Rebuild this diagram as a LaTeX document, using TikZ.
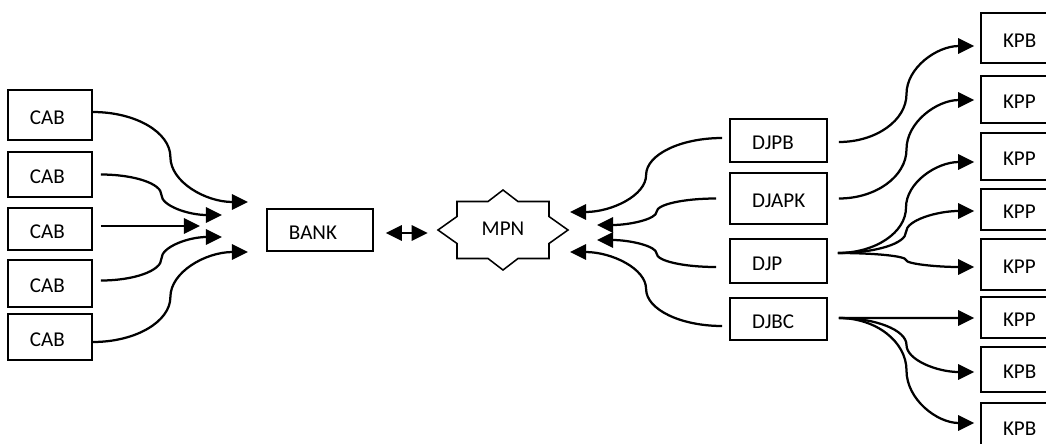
\documentclass[tikz,border=0pt]{standalone}
\usepackage{fontspec}
\setmainfont{Carlito}
\usetikzlibrary{arrows.meta, calc}

\begin{document}
\begin{tikzpicture}[
    x=0.025cm, y=-0.025cm, % one unit = one pixel, y going down
    >={Triangle[length=0.4cm,width=0.38cm]},
    office/.style={rectangle, draw=black, line width=1.1pt, align=left, inner xsep=0.55cm, inner ysep=0pt, text height=0.47cm},
    every node/.style={font=\fontsize{15}{18}\selectfont},
    % S-shaped connector: horizontal at both ends, vertical in the middle
    sbend/.style={to path={let \p1=(\tikztostart), \p2=(\tikztotarget), \p3=($(\p1)!0.5!(\p2)$) in
        .. controls ({\x1+0.55*(\x3-\x1)}, \y1) and (\x3, {\y3+0.55*(\y1-\y3)}) .. (\p3)
        .. controls (\x3, {\y3+0.55*(\y2-\y3)}) and ({\x2-0.55*(\x2-\x3)}, \y2) .. (\p2) \tikztonodes}},
    flow/.style={->, line width=1.6pt, sbend}
]
\useasboundingbox (0,0) rectangle (1046,443);
\clip (0,0) rectangle (1046,443);

% Left column
\node[office, text width=1cm, minimum height=1.25cm] (cab1) at (50,115) {CAB};
\node[office, text width=1cm, minimum height=1.125cm] (cab2) at (50,174.5) {CAB};
\node[office, text width=1cm, minimum height=1.05cm] (cab3) at (50,229) {CAB};
\node[office, text width=1cm, minimum height=1.175cm] (cab4) at (50,283.5) {CAB};
\node[office, text width=1cm, minimum height=1.15cm] (cab5) at (50,337) {CAB};

% Bank and MPN
\node[office, text width=1.55cm, minimum height=1.05cm] (bank) at (320,230) {BANK};
\node[minimum width=3.25cm, minimum height=2cm] (mpn) at (503,229) {MPN};
\draw[line width=1.1pt, shift={(503,230)}] (-46,-28.5) -- (-15,-28.5) -- (0,-40) -- (15,-28.5) -- (46,-28.5)
    -- (46,-13.5) -- (65,0) -- (46,13.5) -- (46,28.5) -- (15,28.5) -- (0,40) -- (-15,28.5) -- (-46,28.5)
    -- (-46,13.5) -- (-65,0) -- (-46,-13.5) -- cycle;

% Directorates
\node[office, text width=1.325cm, minimum height=1.075cm] (djpb) at (778.5,140.5) {DJPB};
\node[office, text width=1.325cm, minimum height=1.275cm] (djapk) at (778.5,198.5) {DJAPK};
\node[office, text width=1.325cm, minimum height=1.1cm] (djp) at (778.5,261) {DJP};
\node[office, text width=1.325cm, minimum height=1.05cm] (djbc) at (778.5,319) {DJBC};

% Offices on the right
\node[office, text width=0.875cm, minimum height=1.25cm] (kpb-a) at (1020.5,38) {KPB};
\node[office, text width=0.875cm, minimum height=1.175cm] (kpp-a) at (1020.5,99.5) {KPP};
\node[office, text width=0.875cm, minimum height=1.175cm] (kpp-b) at (1020.5,156.5) {KPP};
\node[office, text width=0.875cm, minimum height=1.025cm] (kpp-c) at (1020.5,209.5) {KPP};
\node[office, text width=0.875cm, minimum height=1.275cm] (kpp-d) at (1020.5,264.5) {KPP};
\node[office, text width=0.875cm, minimum height=1.025cm] (kpp-e) at (1020.5,317.5) {KPP};
\node[office, text width=0.875cm, minimum height=1.125cm] (kpb-b) at (1020.5,369.5) {KPB};
\node[office, text width=0.875cm, minimum height=1.175cm] (kpb-c) at (1020.5,426.5) {KPB};

% Arrow ends in front of BANK and MPN
\coordinate (bank-in1) at (248,202);
\coordinate (bank-in2) at (222,215);
\coordinate (bank-in3) at (200,226);
\coordinate (bank-in4) at (222,237);
\coordinate (bank-in5) at (248,252);
\coordinate (mpn-in1) at (570,212);
\coordinate (mpn-in2) at (597,225);
\coordinate (mpn-in3) at (597,240);
\coordinate (mpn-in4) at (570,252);

% CAB -> BANK
\draw[flow] ([shift={(0,-3)}]cab1.east) to (bank-in1);
\draw[flow] ([shift={(8,0)}]cab2.east) to (bank-in2);
\draw[flow] ([shift={(8,-3)}]cab3.east) to (bank-in3);
\draw[flow] ([shift={(8,-3)}]cab4.east) to (bank-in4);
\draw[flow] ([shift={(0,5)}]cab5.east) to (bank-in5);

% BANK <-> MPN
\draw[<->, line width=1.6pt] ([shift={(12,3)}]bank.east) -- ([shift={(-10,4)}]mpn.west);

% Directorates -> MPN
\draw[flow] ([shift={(-7,-2.5)}]djpb.west) to (mpn-in1);
\draw[flow] ([shift={(-13,0)}]djapk.west) to (mpn-in2);
\draw[flow] ([shift={(-13,6)}]djp.west) to (mpn-in3);
\draw[flow] ([shift={(-7,7)}]djbc.west) to (mpn-in4);

% Directorates -> offices
\draw[flow] ([shift={(11,1.5)}]djpb.east) to ([shift={(-6,8)}]kpb-a.west);
\draw[flow] ([shift={(11,0)}]djapk.east) to ([shift={(-6,0.5)}]kpp-a.west);
\draw[flow] ([shift={(10,-8)}]djp.east) to ([shift={(-6,5.5)}]kpp-b.west);
\draw[flow] ([shift={(10,-8)}]djp.east) to ([shift={(-6,1.5)}]kpp-c.west);
\draw[flow] ([shift={(10,-8)}]djp.east) to ([shift={(-6,2.5)}]kpp-d.west);
\draw[flow] ([shift={(11,-1)}]djbc.east) to ([shift={(-6,0.5)}]kpp-e.west);
\draw[flow] ([shift={(11,-1)}]djbc.east) to ([shift={(-6,2.5)}]kpb-b.west);
\draw[flow] ([shift={(11,-1)}]djbc.east) to ([shift={(-6,-3.5)}]kpb-c.west);

\end{tikzpicture}
\end{document}
